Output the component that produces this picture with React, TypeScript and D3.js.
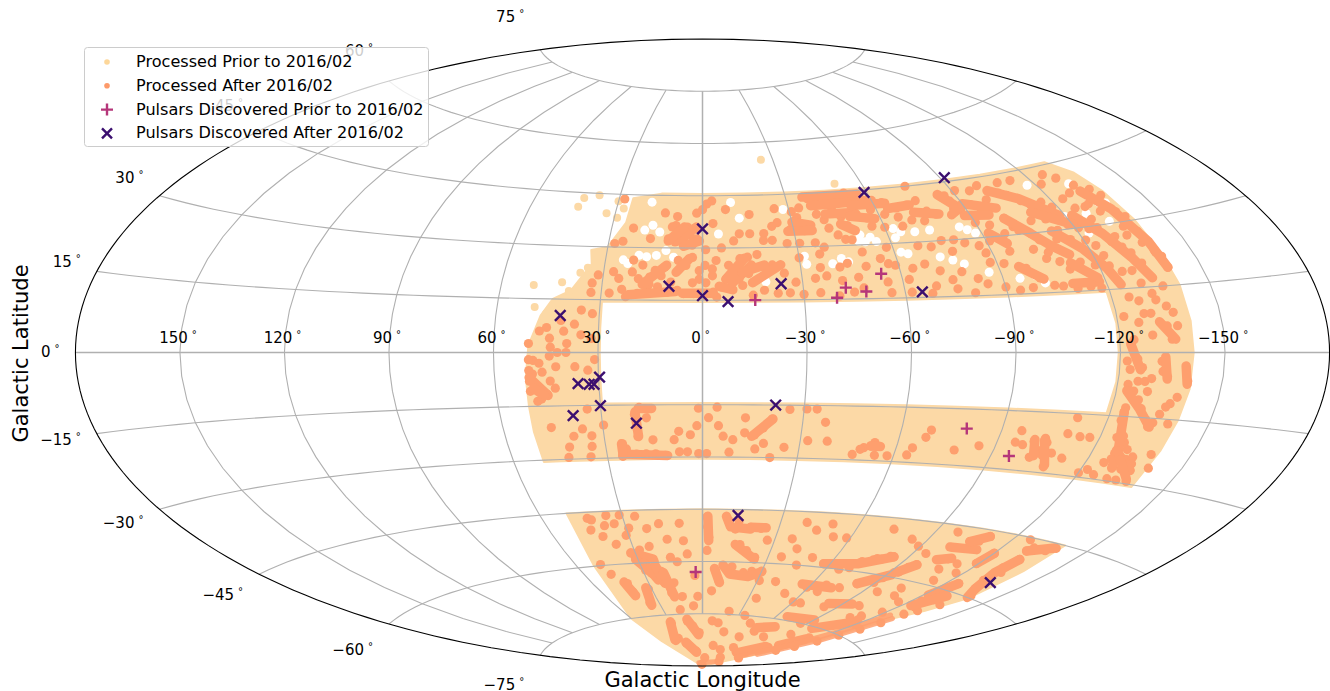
import React from "react";
import * as d3 from "d3";

type P = [number, number];

const footprintOuter: P[] = [[25,44],[15,45.5],[0,45.5],[-15,45.5],[-30,45.5],[-45,45.5],[-60,45.5],[-75,45.5],[-90,45.5],[-105,45.5],[-120,45.5],[-132,45.5],[-137,42],[-139,37],[-140,30],[-140.5,22],[-141,15],[-141,7],[-141,0],[-141,-8],[-140.5,-15],[-140,-22],[-139.5,-30.5],[-130,-30.5],[-120,-30.5],[-105,-30.5],[-90,-30.5],[-75,-30.5],[-60,-30.5],[-45,-30.5],[-30,-30.5],[-15,-30.5],[0,-30.5],[15,-30.5],[30,-30.5],[45,-30.5],[50.5,-30.5],[51,-22],[51,-15],[51,-7],[50,2],[47,10.3],[44,15],[39,17.5],[36,22],[34,25],[35,29],[30,30],[25.6,37]];
const footprintInner: P[] = [[29.5,14.5],[15,14.5],[0,14.5],[-15,14.5],[-30,14.5],[-45,14.5],[-60,14.5],[-75,14.5],[-90,14.5],[-105,14.5],[-119,14.5],[-119.5,7],[-119.5,0],[-119.5,-7],[-119,-14.5],[-105,-14.5],[-90,-14.5],[-75,-14.5],[-60,-14.5],[-45,-14.5],[-30,-14.5],[-15,-14.5],[0,-14.5],[15,-14.5],[29.5,-14.5],[29.5,-7],[29.5,0],[29.5,7]];
const footprintCap: P[] = [[50,-45],[40,-45],[30,-45],[15,-45],[0,-45],[-15,-45],[-30,-45],[-45,-45],[-60,-45],[-75,-45],[-90,-45],[-105,-45],[-120,-45],[-130,-45],[-140,-45],[-140,-52],[-140,-60],[-135,-65],[-130,-68.5],[-127,-77],[-120,-84],[-90,-89.7],[60,-89.7],[60,-82],[60,-75],[52,-60]];

const palePoints: P[] = [[-25,55],[-50,47.2],[50.3,18.8],[49,12.7],[37.5,44.5],[42.6,43.5],[43.5,41],[30,43],[27.5,41],[29,38.3],[33,39.5],[35,24],[37,22.5],[42,19.7],[45.4,11],[42,14],[39.6,17.3]];

const gapPoints: P[] = [[-10,43],[-5.2,34],[-12.5,38.5],[16.5,36.4],[19,35],[14,34.5],[18,43],[19.8,27.8],[17.4,27.4],[14.4,27.8],[11.5,29.2],[23,25.4],[24.5,26.4],[9,27.3],[-17.6,21.6],[-19,20.2],[-31.7,27.3],[-43,26.4],[-45,25.4],[-40,25],[-32,25],[-28,40.7],[-51,32.7],[-54,32],[-50,31],[-55.5,30.7],[-52,30.8],[-62.5,34],[-64.5,33],[-69,32.8],[-74,33],[-62,31.5],[-86,32.3],[-84,33.2],[-88,31.3],[-77,24.7],[-73.5,25.7],[-80,23.5],[-86.5,21],[-64,27],[-62,27.5],[-117,41.3],[-119.5,33],[-131,40],[-132,35.7],[-134,35],[-136,34.5],[-127,33],[-132,30.5],[-123,28.5],[-100,19.5],[-102,17.5],[-95,19]];

const orangeNorthWest: P[] = [[-3.3,43.5],[-1.5,42.6],[0,41],[2,40],[8.5,39],[12.8,40],[-25,41],[-16,39.5],[-37.7,43.5],[-40,42.6],[-43.7,42.6],[-45,40.7],[-51.5,44.5],[-54,43.5],[-54,41.7],[-33.6,41],[-30.7,40],[-33,36.4],[-31,37.4],[-29,35],[-33.5,34.5],[-32,38.3],[-20,34],[-15.4,34],[-19.6,32],[-22.4,32],[-41.7,35],[-41,37.4],[-46,31.7],[-39,39],[-3.5,37],[2.9,35.5],[5,36],[6.7,34.5],[4,33.6],[1.8,32.6],[6,32],[8.8,31.7],[11,32.6],[3.3,30.8],[22.8,35.5],[16.8,32.6],[8.8,36.4],[25.5,31.7],[28,31],[28,43.7],[-4.2,26.4],[-0.8,25],[7.5,26.4],[3.1,27.3],[5.1,25],[14.4,23.5],[11.5,24.5],[15.9,21.6],[12.5,22],[21.3,26.4],[18.3,25],[21.3,23],[19.3,21.1],[25.2,21.1],[27,23],[27.6,16.9],[22.7,15.9],[19.3,16.9],[16.4,17.8],[13.4,18.8],[10.5,17.3],[7.5,17.8],[9.5,20.2],[5.6,16.9],[2.6,16.9],[-0.3,16.4],[-3.2,17.3],[-5.7,18.8],[-4.2,15.9],[-8.1,18.3],[-7.2,21.1],[-9.1,22.6],[-11,21.1],[-10,24],[-8,25],[-12,19.2],[-14,22.6],[-15,25],[-11.6,26.9],[-14,27.3],[-19,24.5],[-21.4,25],[-18.4,17.8],[-15,16.4],[-22.4,16.9],[-24.8,22.6],[-30,26.9],[-36.6,27.8],[-38.5,29.7],[-34,21],[-37.5,21.6],[-42,20.2],[-45,16.9],[-40.5,15.9],[-35,16.9],[-8,41],[-6,30],[-10,32],[-25,37],[-27,31],[-31,31],[-12,34],[-23,36],[-36,31],[-44,33],[-50,24],[-42,24],[-36,24],[-28,20],[-26,17],[-30,16.5],[-48,18],[10,36],[-1,29.5],[-3,22],[1,21],[3,20],[-1,20],[1,23.5],[-3,24],[24,18],[16,19.5],[-17,28]];

const orangeNorthEast: P[] = [[-86.5,40],[-86,38],[-88,37.5],[-92.5,38.6],[-95,37.7],[-97.4,37],[-86,41.5],[-99,39.3],[-56.5,42.5],[-60,42],[-63,41.2],[-67,39.5],[-71,40],[-75,41],[-76.5,38],[-79,37],[-52.5,38.5],[-55.5,37.3],[-75,45],[-102,41.3],[-105,40.5],[-107,39.7],[-110,38],[-112,36.8],[-116,37],[-118,35.5],[-118,33],[-129,41.7],[-132,39.5],[-135.5,38],[-137,36.3],[-136.5,32.3],[-138,31],[-128.6,34.5],[-132,33],[-100,34.3],[-101,32],[-102,31],[-105,30],[-106.5,28.2],[-108.8,26.5],[-78,27],[-88,26],[-82.6,19.5],[-78.4,21.5],[-69.6,18],[-59,24],[-57,24.5],[-55.5,19.5],[-62,20],[-75.7,17],[-80.6,15.8],[-50,28],[-48,31.5],[-44.5,25],[-47,21],[-98,21.4],[-101,18.8],[-104.5,16.8],[-95.5,26],[-103,26],[-105.5,23.5],[-109,22.5],[-111,20.5],[-111,15.7],[-115,16],[-118,15.5],[-107,16.5],[-107,25],[-120.5,27],[-122.5,25.5],[-123,23],[-123,20.5],[-130,24.5],[-131.6,23],[-133,20.5],[-139,23],[-140,21.5],[-139,22.5],[-140,19],[-135,29],[-138,27.5],[-137,25],[-130,27],[-126.7,29.5],[-124,29.5],[-118.5,31],[-130.5,35],[-125,34.5],[-127,31.5],[-58,39.5],[-62,38],[-66,37],[-70,36],[-74,35.5],[-56,35],[-60,34.5],[-66,34.5],[-48,35.5],[-47,38],[-90,34],[-94,33],[-97,30.5],[-91,29],[-87,28],[-83,29],[-80,30],[-76,30],[-72,28.5],[-68,29],[-58,29],[-55,26],[-113,33],[-108,33],[-112,28],[-116,27.5],[-115,22],[-119,21],[-121,30],[-114,30],[-128,26],[-134,27],[-126,19],[-129,19],[-130,16],[-136,15],[-124,37],[-128,38],[-122,41],[-126,43],[-113,43],[-108,43],[-96,42],[-91,42.5],[-100,43],[-68,24],[-64,23],[-72,22],[-75,19.5],[-85,18],[-90,17],[-94,16],[-56,16.5],[-62,16.5],[-68,16],[-98,16.5],[-92,23],[-88,23.5]];

const orangeSideEast: P[] = [[-125,13],[-127.5,12],[-132,13.5],[-132.5,12],[-135,10.5],[-136.5,9],[-128,9],[-122,8.5],[-122,-2],[-125,-1.5],[-126.5,-3.5],[-123,-7.5],[-125.7,-6.7],[-127.7,-6.7],[-129.5,-6],[-132,-2],[-132.5,-4.3],[-134,-5.5],[-140,-6.3],[-135,3],[-137,6],[-134,6],[-129.5,4],[-136.5,-11.5],[-135.5,-12.3],[-125,-9],[-127,-11],[-128.6,-13],[-131,-15.4],[-132.5,-17],[-124,-14],[-124,-16],[-126.7,-19.5],[-127.5,-22.5],[-130,-22.5],[-129.3,-24.7],[-131.4,-24.7],[-133,-24],[-129,-26.5],[-132,-27],[-135,-27],[-133,-29.5],[-136.5,-29.5],[-130,-29.5],[-140,-26],[-138,-23],[-125.5,-26],[-133.5,-16],[-134.5,-14],[-128,-21],[-127,-23.7],[-127,-25],[-134,-25.5],[-124,-13],[-124,3],[-126,7],[-130,9],[-123,-4],[-138,-10],[-138,-16],[-129,-9],[-125,-20],[-122,-28],[-125,-29],[-120,-29]];

const orangeSouthEast: P[] = [[-52,-26],[-54,-26],[-50,-26.5],[-53,-25],[-49,-27],[-54,-28.5],[-58,-28.5],[-47,-28.5],[-69,-21],[-68,-23],[-65,-26],[-64,-28],[-78,-26],[-85,-24.5],[-96,-20],[-95.5,-23],[-98,-23.5],[-101,-22.5],[-103,-24.5],[-105,-22.5],[-108,-25],[-105.5,-25.7],[-108,-28.5],[-102,-26.5],[-112,-26],[-110,-20],[-114,-20.5],[-111,-16],[-117,-20.5],[-104,-21.5]];

const orangeSouthWest: P[] = [[18.7,-15.7],[16.2,-16.2],[20.2,-17.7],[16.7,-18.7],[19.7,-24],[15.2,-25],[24.7,-26],[23.7,-27.5],[25.2,-29.5],[20.7,-29],[17.7,-29],[14.7,-29],[11.7,-29.5],[7.2,-28.5],[7.2,-22.6],[8.7,-25],[3.7,-23.6],[1.2,-16],[-1.8,-18.7],[-4.3,-15.7],[-4.8,-21],[-6.3,-24],[-9.3,-25],[-12.8,-18.7],[-12.8,-23],[-15.8,-23.6],[-18.3,-21.6],[-20.8,-19],[-18.8,-26],[-16.3,-27.6],[-8.3,-28.6],[-1.3,-29],[1.2,-29],[-25.8,-16.2],[-30.8,-16],[-33.8,-16],[-25.3,-27],[-36.8,-19.7],[-32.3,-25],[-38.3,-25],[-21.3,-30],[4.7,-28.5],[1.7,-21],[19.7,-22],[33.7,-23.6],[36.2,-21.6],[39.2,-23.6],[41.2,-26.6],[45.5,-21],[42.2,-29.5],[34,-16],[35.2,-29.5],[34.2,-26.6],[29.7,-20.6]];

const orangeSideWest: P[] = [[50,2.5],[48.7,-2.2],[46.2,-5.5],[50,-8],[48.7,-10],[46.7,-10.8],[50,-10.8],[45.2,-11.7],[48.2,-13.6],[42.7,-10],[42.2,-4],[39.2,0],[36.7,-4],[41.7,0],[50,-2],[39,2.5],[43.7,1.5],[35.3,12],[32,11],[33,19.7],[33,17],[31.5,22],[47,-3],[49,-6],[44,-8],[47,-13],[50,-5],[44,-1],[47,6],[45,7],[40,6],[37,8],[35,5],[32,4],[41,9],[44,4],[31,-2],[33,-5]];

const orangeCap: P[] = [[43.3,-46.7],[42,-47.2],[36,-46.2],[34,-48.6],[31,-46.2],[25.4,-46.7],[40.5,-52],[36.6,-54.4],[31,-52],[22,-50.3],[14.7,-53.5],[-1.7,-47.2],[-2,-50],[-2.6,-53],[-2,-56.8],[6.9,-57.8],[14.8,-58.7],[27.7,-56.3],[23,-55.4],[48.6,-59.7],[46.8,-62.6],[31,-58.7],[27,-58.7],[22.8,-59.7],[28.5,-62],[26,-63],[21,-62.6],[21.5,-65.5],[41.8,-65.5],[42,-68],[32,-67.5],[36,-71.2],[19,-68.8],[17,-73.7],[6.5,-72.7],[-6.6,-62.6],[-9,-65.5],[-5.5,-68.4],[-20.8,-74.1],[30,-77.5],[14,-77],[10,-78.5],[4,-80.4],[34,-81.8],[40,-82.3],[27,-83.3],[16,-85.7],[-9,-77],[-15,-77.5],[-68,-87],[-10,-87.6],[12,-89.5],[44,-50],[38,-49],[29,-50],[17,-49],[9,-49],[8,-54],[12,-60],[4,-64],[16,-66],[13,-70],[3,-70]];

const orangeCapEast: P[] = [[-14,-48.3],[-10,-48.2],[-13,-50.6],[-19,-50],[-23,-50.2],[-27,-53.5],[-16,-55],[-19.5,-56.7],[-24,-58.5],[-14.5,-61.4],[-21,-63],[-25,-62.5],[-30,-62.3],[-31,-65],[-28,-63.5],[-50,-68],[-59,-65.7],[-67,-66.5],[-68,-64.5],[-76,-64.7],[-50,-57.6],[-57,-59],[-36,-58],[-41,-55.5],[-37,-52.8],[-53,-51.5],[-58.5,-51.5],[-66,-60],[-70,-59.3],[-73,-57.3],[-78,-56],[-82.5,-55],[-82,-63],[-89,-62],[-92,-58.8],[-82,-69],[-82,-70],[-72.5,-57.7],[-77,-56.5],[-80,-56],[-84,-55],[-93.5,-58.5],[-95,-57],[-97,-56],[-90,-60.5],[-105,-62],[-113,-58.7],[-106,-53.3],[-101,-50.5],[-98,-46.7],[-109,-48],[-106,-48.5],[-111,-46.5],[-120,-50],[-89,-51.5],[-74,-48],[-132,-50],[-131,-52.5],[-133,-53.5],[-131.5,-54.5],[-132,-56],[-135,-58],[-139,-59.5],[-130,-48],[-131,-47],[-136,-47],[-138.5,-46],[-126,-45.5],[-125,-58],[-128,-62.5],[-124,-63.5],[-127,-65],[-97,-64],[-119,-53],[-117,-56],[-122,-82],[-125,-80],[-127,-77.5],[-128,-75],[-129,-72.5],[-130,-70],[-130,-67],[-115,-86],[-100,-88],[-132,-65.5],[-135,-63],[-112,-70],[-115,-71],[-108,-71],[-57,-79],[-48,-81],[-80,-85],[-105,-82],[-112,-80],[-115,-77.5],[-95,-84.5],[-40,-48],[-45,-50],[-50,-48],[-45,-60],[-40,-65],[-35,-70],[-35,-75],[-60,-70],[-65,-70],[-45,-77],[-25,-80],[-20,-84],[-60,-84],[-40,-85],[-75,-80],[-95,-78],[-85,-75],[-100,-68],[-108,-64],[-115,-65],[-118,-68],[-108,-56],[-112,-54],[-95,-53],[-84,-50],[-120,-72]];

const orangeRunsNorth: P[][] = [
  [[-36,44],[-56,44]],[[-38,41.5],[-58,42]],[[-42,39],[-52,39]],[[-30,37],[-36,36]],[[-28,34.5],[-36,34.5]],[[-46,36],[-50,34]],
  [[-84,42],[-88,38],[-84,36.5]],[[-90,39],[-100,37]],[[-88,36],[-96,35.5]],[[-52,41],[-64,41]],[[-64,39.5],[-72,40]],[[-72,38],[-80,37]],[[-50,38],[-58,37]],
  [[-102,41.5],[-110,38.5],[-118,33.5]],[[-100,34.3],[-105,30],[-109,26.5],[-113,24]],[[-92,31],[-96,28]],[[-112,30],[-118,25],[-122,20],[-124,16]],
  [[-122,33],[-127,28],[-131,22],[-134,17]],[[-132,38],[-136,33],[-139,25],[-140,19]],[[-110,35],[-120,31]],[[-110,17],[-118,17]],[[-96,22],[-102,18.5]],[[-112,22],[-118,18]],
  [[2,36],[8,32]],[[6,36],[11,32]],[[1,32],[6,30.5]],[[18,19.5],[11,25]],[[22,16.5],[8,17.5]],[[6,17],[-3,17]],[[-5,19],[-9,18]],[[-7,21],[-13,27]],[[-9,20],[-15,25]],[[-12,23],[-19,25]],[[-15,20],[-24,25]],[[4,27],[8,23]],
];
const orangeRunsSouth: P[][] = [
  [[50,-7],[45,-12]],[[49,-10],[46,-12]],[[25,-29],[11,-29.5]],[[19,-16],[15,-16]],[[20,-17],[19.5,-24]],[[25,-26],[25,-29.5]],[[-15,-24],[-21,-19]],
  [[-52,-26],[-55,-26]],[[-123,-9],[-128,-13],[-133,-17]],[[-124,-14],[-127,-22],[-129,-27]],[[-127,-23],[-135,-27]],[[-130,-25],[-136,-29]],[[-123,2],[-126,-4]],[[-133,-1],[-134,-6]],[[-139,-3],[-140,-7]],[[-132,7],[-136,3]],[[-104,-22],[-108,-28]],[[-101,-22],[-103,-26]],
];
const orangeRunsCap: P[][] = [
  [[32,-57],[23,-59]],[[31,-59],[26,-63]],[[28,-60],[24,-65]],[[23,-61],[21,-66]],[[43,-65],[42,-69]],[[33,-67],[36,-72]],[[20,-63],[18,-70]],[[30,-77],[40,-82]],[[14,-76.5],[5,-81]],[[27,-83],[16,-86]],
  [[-10,-61],[-14,-63.5],[-24,-64],[-30,-62.5]],[[-6,-62],[-9.5,-66]],[[-14,-55],[-24,-59]],[[-9,-47],[-11,-50],[-19,-50.5]],[[-19,-50],[-25,-50]],[[-2,-47],[-2.6,-54]],
  [[-55,-65],[-72,-65]],[[-57,-59],[-72,-58],[-84,-55]],[[-82,-63],[-92,-59.5]],[[-93,-58.5],[-97,-56]],[[-68,-74],[-90,-73.5]],[[-82,-69],[-95,-68]],[[-100,-75.5],[-115,-72]],[[-85,-85],[-100,-82]],[[-55,-78],[-70,-77]],[[-110,-81],[-115,-78]],
  [[-132,-50],[-131,-54],[-135,-58],[-139,-60]],[[-130,-48],[-138,-46]],[[-122,-62],[-125,-58]],[[-124,-65],[-130,-61]],[[-119,-53],[-120,-50]],[[-102,-50.5],[-112,-50]],[[-102,-54],[-107,-53]],[[-106,-48.5],[-111,-46.5]],
];
const orangeEdgeRuns: P[][] = [
  [[40,-89],[-100,-88]],[[-120,-84],[-127,-77],[-130,-68.5]],[[-105,-86],[-118,-80],[-122,-74],[-125,-68]],
];

const pulsarsPrior: P[] = [[-15.5,15],[-39.6,15.4],[-42.6,18.2],[-48.5,17],[-54,21.8],[-79.4,-20.2],[-95.6,-26.6],[3.5,-63]];
const pulsarsAfter: P[] = [[-91.5,46],[-59,44.3],[0,35.5],[10,19],[0,16.3],[-7.5,14.6],[-23.5,19.6],[-65,16.5],[41.3,10.4],[29.7,-7],[36,-8.8],[32.8,-9],[31.4,-9],[30,-15.1],[38.4,-17.8],[19.8,-20.2],[-21.5,-15],[-13.3,-46.7],[-136,-56]];

const lonTicks = [150, 120, 90, 60, 30, 0, -30, -60, -90, -120, -150];
const latTicks = [75, 60, 45, 30, 15, 0, -15, -30, -45, -60, -75];
const legendLabels = ["Processed Prior to 2016/02", "Processed After 2016/02", "Pulsars Discovered Prior to 2016/02", "Pulsars Discovered After 2016/02"];

const PALE = "#fcd9a6";
const ORANGE = "#fe9f6e";
const PLUS = "#b5367a";
const CROSS = "#3b0f70";
const GRID = "#b0b0b0";
const FONT = "'DejaVu Sans', sans-serif";

function aitoffRaw(l: number, p: number): [number, number] {
  const c = Math.cos(p);
  const a = Math.acos(c * Math.cos(l / 2));
  const s = a ? a / Math.sin(a) : 1;
  return [2 * c * Math.sin(l / 2) * s, Math.sin(p) * s];
}

const projection = d3.geoProjection(aitoffRaw as any).scale(199.6).translate([702.5, 352.5]).reflectX(true).precision(0.1);
const pt = (d: P) => projection(d) as [number, number];
const line = d3.line<P>().x((d) => pt(d)[0]).y((d) => pt(d)[1]);
const ring = (r: P[]) => line(r) + "Z";
const outline = d3.geoPath(projection)({ type: "Sphere" } as any) as string;

const lonSamples = d3.range(-180, 180.1, 5);
const latSamples = d3.range(-75, 75.1, 5);
const fmt = (v: number) => (v < 0 ? "\u2212" + Math.abs(v) : String(v));

function Tick({ x, y, v, anchor }: { x: number; y: number; v: number; anchor: string }) {
  return (
    <text x={x} y={y} textAnchor={anchor} fontSize={15} fill="#000">
      {fmt(v)}
      <tspan dx={4} dy={-5} fontSize={10}>°</tspan>
    </text>
  );
}

function Plus({ d }: { d: P }) {
  const [x, y] = pt(d);
  return <path d={`M${x - 6},${y}H${x + 6}M${x},${y - 6}V${y + 6}`} stroke={PLUS} strokeWidth={2.4} fill="none" />;
}
function Cross({ d }: { d: P }) {
  const [x, y] = pt(d);
  return <path d={`M${x - 5.3},${y - 5.3}L${x + 5.3},${y + 5.3}M${x - 5.3},${y + 5.3}L${x + 5.3},${y - 5.3}`} stroke={CROSS} strokeWidth={2.4} fill="none" />;
}

export default function App() {
  const orange = [...orangeNorthWest, ...orangeNorthEast, ...orangeSideEast, ...orangeSouthEast, ...orangeSouthWest, ...orangeSideWest, ...orangeCap, ...orangeCapEast];
  const runs = [...orangeRunsNorth, ...orangeRunsSouth, ...orangeRunsCap];
  return (
    <svg width={1330} height={691} style={{ position: "absolute", left: 0, top: 0, display: "block" }} fontFamily={FONT}>
      <rect width={1330} height={691} fill="#fff" />
      <path d={ring(footprintOuter) + ring(footprintInner)} fillRule="evenodd" fill={PALE} stroke={PALE} strokeWidth={2} strokeLinejoin="round" />
      <path d={ring(footprintCap)} fill={PALE} stroke={PALE} strokeWidth={2} strokeLinejoin="round" />
      {palePoints.map((d, i) => <circle key={i} cx={pt(d)[0]} cy={pt(d)[1]} r={4} fill={PALE} />)}
      {gapPoints.map((d, i) => <circle key={i} cx={pt(d)[0]} cy={pt(d)[1]} r={4.5} fill="#fff" />)}
      {orange.map((d, i) => <circle key={i} cx={pt(d)[0]} cy={pt(d)[1]} r={4.6} fill={ORANGE} />)}
      {runs.map((r, i) => <path key={i} d={line(r) as string} fill="none" stroke={ORANGE} strokeWidth={9.5} strokeLinecap="round" strokeLinejoin="round" />)}
      {orangeEdgeRuns.map((r, i) => <path key={i} d={line(r) as string} fill="none" stroke={ORANGE} strokeWidth={5} strokeOpacity={0.85} strokeLinecap="round" strokeLinejoin="round" />)}

      {latTicks.map((lat) => (
        <path key={lat} d={line(lonSamples.map((l) => [l, lat] as P)) as string} fill="none" stroke={GRID} strokeWidth={lat === 0 ? 1.5 : 1.1} />
      ))}
      {lonTicks.map((lon) => (
        <path key={lon} d={line(latSamples.map((p) => [lon, p] as P)) as string} fill="none" stroke={GRID} strokeWidth={lon === 0 ? 1.5 : 1.1} />
      ))}
      <path d={outline} fill="none" stroke="#000" strokeWidth={1.1} />

      {lonTicks.map((lon) => {
        const [x, y] = pt([lon, 0]);
        return <Tick key={lon} x={x - 2} y={y - 10} v={lon} anchor="middle" />;
      })}
      {latTicks.map((lat) => {
        const [x, y] = pt([180, lat]);
        const s = Math.sin((lat * Math.PI) / 180);
        return <Tick key={lat} x={x - 16} y={y - 33 * s - (lat >= 0 ? 1.5 : 3) + 5.5} v={lat} anchor="end" />;
      })}

      {pulsarsPrior.map((d, i) => <Plus key={i} d={d} />)}
      {pulsarsAfter.map((d, i) => <Cross key={i} d={d} />)}

      <text x={702.5} y={687} textAnchor="middle" fontSize={21}>Galactic Longitude</text>
      <text transform="translate(28,353.5) rotate(-90)" textAnchor="middle" fontSize={21}>Galactic Latitude</text>

      <rect x={84.5} y={47.5} width={344} height={99} rx={3} fill="#fff" fillOpacity={0.8} stroke="#ccc" />
      {legendLabels.map((t, i) => {
        const y = 62 + i * 23.8;
        return (
          <g key={t}>
            {i === 0 && <circle cx={107} cy={y} r={2.8} fill="#fdd79a" />}
            {i === 1 && <circle cx={107} cy={y} r={2.8} fill="#fd9a6a" />}
            {i === 2 && <path d={`M101,${y}H113M107,${y - 6}V${y + 6}`} stroke={PLUS} strokeWidth={2.4} />}
            {i === 3 && <path d={`M102,${y - 5}L112,${y + 5}M102,${y + 5}L112,${y - 5}`} stroke={CROSS} strokeWidth={2.4} />}
            <text x={136} y={y + 5} fontSize={16.1}>{t}</text>
          </g>
        );
      })}
    </svg>
  );
}
